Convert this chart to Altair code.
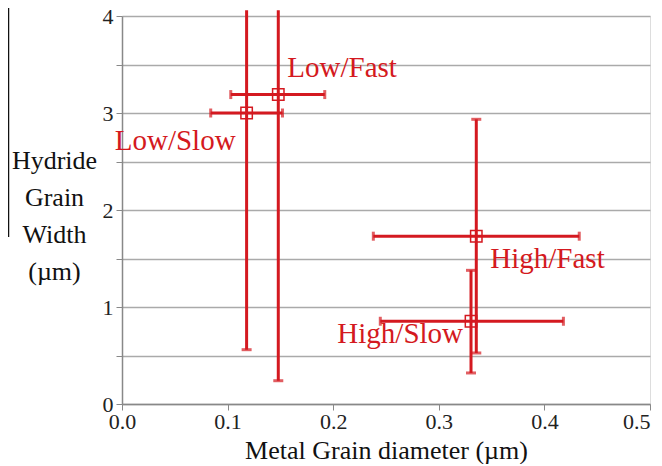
import altair as alt
import pandas as pd

# Data
labels = ["Low/Fast", "Low/Slow", "High/Fast", "High/Slow"]
x_mean = [0.148, 0.118, 0.3355, 0.3305]
x_lo = [0.103, 0.084, 0.238, 0.2446]
x_hi = [0.192, 0.152, 0.433, 0.418]
y_mean = [3.19, 3.00, 1.73, 0.853]
y_lo = [0.24, 0.56, 0.526, 0.32]
y_hi = [4.06, 4.06, 2.935, 1.378]

x_ticks = [0.0, 0.1, 0.2, 0.3, 0.4, 0.5]
y_ticks = [0, 0.5, 1, 1.5, 2, 2.5, 3, 3.5, 4]

RED = "#d41920"
FONT = "Liberation Serif"

df = pd.DataFrame({
    "label": labels, "x": x_mean, "xlo": x_lo, "xhi": x_hi,
    "y": y_mean, "ylo": y_lo, "yhi": y_hi,
})

# caps (only those inside the visible range)
cap_v = pd.DataFrame({"x": x_lo + x_hi, "y": y_mean + y_mean})
hcap_x, hcap_y = [], []
for xm, lo, hi in zip(x_mean, y_lo, y_hi):
    hcap_x.append(xm); hcap_y.append(lo)
    if hi <= 4:
        hcap_x.append(xm); hcap_y.append(hi)
cap_h = pd.DataFrame({"x": hcap_x, "y": hcap_y})

xs = alt.Scale(domain=[0, 0.5], nice=False, zero=False)
ys = alt.Scale(domain=[0, 4], nice=False)

x_axis = alt.Axis(
    values=x_ticks, format=".1f", title="Metal Grain diameter (µm)",
    grid=False, labelFont=FONT, labelFontSize=22, labelColor="#222",
    labelFlush=False, labelOverlap=False,
    labelAlign={"condition": {"test": "datum.value >= 0.5", "value": "right"}, "value": "center"},
    titleFont=FONT, titleFontSize=26, titleFontWeight="normal", titleColor="#111",
    domainColor="#888", domainWidth=1.5, tickColor="#888", tickSize=6,
    labelPadding=1, titlePadding=5,
)
y_axis = alt.Axis(
    values=y_ticks, labelExpr="datum.value % 1 === 0 ? '' + datum.value : ''",
    labelFlush=False, labelOverlap=False,
    title=["Hydride", "Grain", "Width", "(µm)"], titleAngle=0,
    titleX=-68, titleY=144, titleAlign="center", titleBaseline="middle",
    titleLineHeight=37,
    grid=True, gridColor="#aaaaaa", gridWidth=1.5,
    labelFont=FONT, labelFontSize=22, labelColor="#222",
    titleFont=FONT, titleFontSize=26, titleFontWeight="normal", titleColor="#111",
    domainColor="#888", domainWidth=1.5, tickColor="#888", tickSize=6,
    labelPadding=3,
)

base = alt.Chart(df)

hbar = base.mark_rule(color=RED, strokeWidth=3).encode(
    x=alt.X("xlo:Q", scale=xs, axis=x_axis), x2="xhi:Q",
    y=alt.Y("y:Q", scale=ys, axis=y_axis),
)
vbar = base.mark_rule(color=RED, strokeWidth=3).encode(
    x=alt.X("x:Q", scale=xs), y=alt.Y("ylo:Q", scale=ys), y2="yhi:Q",
)
vcaps = alt.Chart(cap_v).mark_tick(color=RED, orient="vertical", size=9, thickness=3).encode(
    x=alt.X("x:Q", scale=xs), y=alt.Y("y:Q", scale=ys),
)
hcaps = alt.Chart(cap_h).mark_tick(color=RED, orient="horizontal", size=10, thickness=3).encode(
    x=alt.X("x:Q", scale=xs), y=alt.Y("y:Q", scale=ys),
)
pts = base.mark_point(shape="square", size=130, filled=False, color=RED, strokeWidth=1.5, opacity=1).encode(
    x=alt.X("x:Q", scale=xs), y=alt.Y("y:Q", scale=ys),
)

offsets = {
    "Low/Fast": dict(dx=9, dy=-18, align="left"),
    "Low/Slow": dict(dx=-11, dy=37, align="right"),
    "High/Fast": dict(dx=14, dy=32, align="left"),
    "High/Slow": dict(dx=-8, dy=22, align="right"),
}
texts = []
for lab, o in offsets.items():
    texts.append(
        base.transform_filter(alt.datum.label == lab).mark_text(
            font=FONT, fontSize=29, color=RED, baseline="alphabetic", **o
        ).encode(x=alt.X("x:Q", scale=xs), y=alt.Y("y:Q", scale=ys), text="label:N")
    )

edge = alt.Chart(pd.DataFrame({"a": [0]})).mark_rule(color="#111", strokeWidth=1.5).encode(
    x=alt.value(-113.5), y=alt.value(-20), y2=alt.value(221)
)

chart = alt.layer(hbar, vbar, vcaps, hcaps, pts, *texts, edge).properties(
    width=528, height=388,
    autosize=alt.AutoSizeParams(type="none"),
    padding={"left": 114, "top": 8, "right": 4, "bottom": 60},
).configure_view(stroke="#aaaaaa", strokeWidth=1.5).configure(background="white")

chart.save("out.html", embed_options={"renderer": "svg", "actions": False})
